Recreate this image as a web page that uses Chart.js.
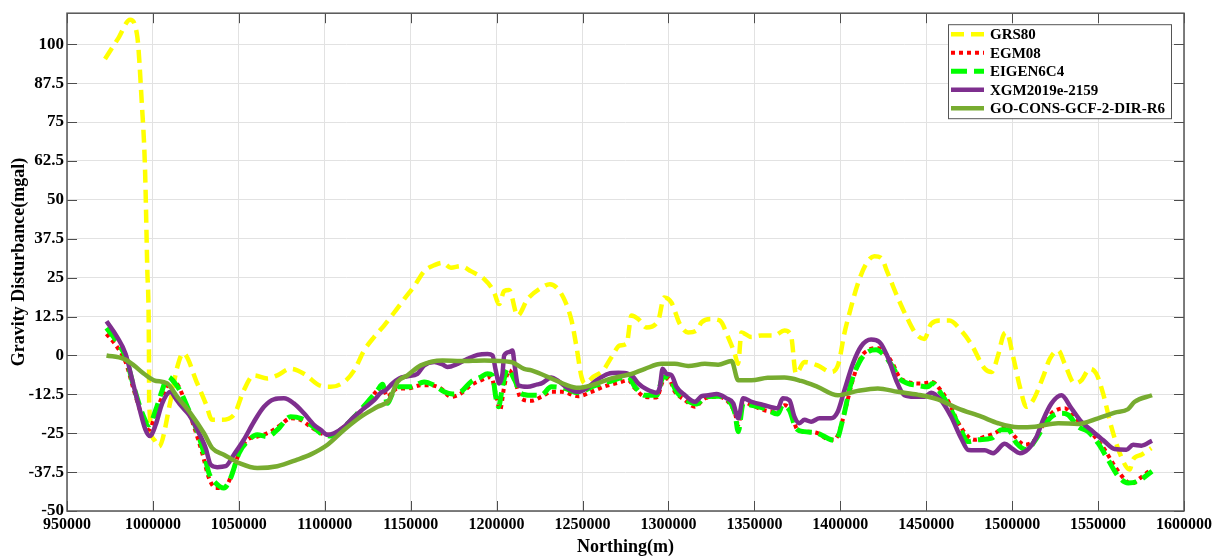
<!DOCTYPE html>
<html>
<head>
<meta charset="utf-8">
<script src="https://cdn.jsdelivr.net/npm/chart.js@4.4.0/dist/chart.umd.min.js"></script>
<style>
  html, body { margin: 0; padding: 0; background: #fff; }
  #wrap { width: 1220px; height: 558px; }
</style>
</head>
<body>
<div id="wrap"><canvas id="chart" width="1220" height="558"></canvas></div>
<script>
// axis ticks
const xTicks = [950000, 1000000, 1050000, 1100000, 1150000, 1200000, 1250000,
    1300000, 1350000, 1400000, 1450000, 1500000, 1550000, 1600000];
const yTicks = [-50, -37.5, -25, -12.5, 0, 12.5, 25, 37.5, 50, 62.5, 75, 87.5, 100];

const seriesNames = ['GRS80', 'EGM08', 'EIGEN6C4', 'XGM2019e-2159', 'GO-CONS-GCF-2-DIR-R6'];

// GRS80
const xGrs = [972100, 979900, 986700, 990900, 993500, 995400, 996700, 997700, 997800, 1000600,
    1003500, 1010300, 1014200, 1017600, 1025800, 1030700, 1034500, 1039400, 1047100, 1052900,
    1058700, 1066500, 1072400, 1080100, 1087900, 1097700, 1103500, 1111300, 1117100, 1122900,
    1128700, 1134500, 1140400, 1146200, 1152100, 1157900, 1163700, 1168500, 1173400, 1179200,
    1185000, 1192800, 1198200, 1201500, 1204400, 1207300, 1212200, 1218000, 1226100, 1231000,
    1234900, 1239700, 1243600, 1246500, 1249400, 1251400, 1256200, 1262000, 1266900, 1271700,
    1275600, 1278500, 1282400, 1287200, 1294000, 1297500, 1301700, 1306600, 1311400, 1316300,
    1319200, 1325000, 1329900, 1334700, 1338600, 1340500, 1342500, 1348300, 1353900, 1361600,
    1367500, 1371300, 1374200, 1379100, 1386800, 1394600, 1398900, 1402300, 1406200, 1410100,
    1414900, 1419800, 1423700, 1427500, 1433400, 1439200, 1444100, 1448900, 1452800, 1458600,
    1463500, 1470300, 1476100, 1484100, 1488000, 1491800, 1494800, 1496700, 1500600, 1504500,
    1508300, 1512200, 1518000, 1521900, 1526800, 1530600, 1536400, 1540300, 1545200, 1549000,
    1552900, 1557700, 1562600, 1568400, 1570300, 1575200, 1581000];
const yGrs = [95.3, 102.0, 107.9, 102.5, 81.3, 60, 28, 0, -15, -27,
    -29.3, -14.4, -3.7, 0.7, -9, -15.4, -20.7, -20.7, -19.1, -11.2,
    -6.4, -7.4, -6.4, -4.3, -5.9, -9.8, -10.1, -8.5, -4.8, 1.6,
    5.9, 9.6, 13.8, 18.1, 22.3, 27.1, 29.0, 29.8, 28.2, 28.7,
    27.1, 24.5, 20.7, 16.5, 20.7, 21.0, 12.8, 18.1, 21.8, 22.9,
    21.8, 17.6, 11.2, 2.7, -6.9, -9.0, -6.9, -4.8, -0.5, 3.2,
    3.7, 12.8, 11.7, 9.0, 11.2, 18.6, 17.0, 10.1, 7.4, 8.0,
    10.6, 11.7, 11.2, 5.9, 0.5, -2.7, 7.4, 5.9, 6.4, 6.4,
    8.0, 6.4, -5.9, -2.1, -3.2, -5.3, -2.7, 6.9, 15.4, 22.9,
    29.3, 31.9, 31.4, 26.6, 18.6, 11.7, 6.9, 5.3, 10.1, 11.2,
    11.2, 8.0, 3.7, -4.3, -5.3, 0, 6.4, 7.4, -0.5, -10.1,
    -16.5, -14.4, -6.9, -1.1, 1.6, -2.7, -9.0, -8.0, -4.3, -5.9,
    -12.2, -22.9, -31.4, -36.7, -33.5, -31.9, -29.8];

// EGM08
const xEgm = [973000, 979200, 984100, 988900, 993800, 997700, 1001600, 1005400, 1011300, 1015100,
    1019000, 1023900, 1028700, 1032600, 1036500, 1041300, 1046200, 1050100, 1054900, 1060700,
    1068500, 1074300, 1080100, 1085900, 1091800, 1097700, 1103500, 1111300, 1117100, 1124800,
    1129700, 1133600, 1136500, 1139400, 1142300, 1148100, 1155900, 1161700, 1167600, 1173400,
    1179200, 1185000, 1190900, 1196700, 1199500, 1202000, 1204400, 1207300, 1210600, 1214100,
    1219900, 1226100, 1231900, 1237800, 1247500, 1255200, 1263000, 1270800, 1276600, 1280500,
    1286300, 1293100, 1297000, 1299900, 1303800, 1309600, 1315400, 1321200, 1329000, 1334800,
    1338700, 1340600, 1343500, 1348400, 1355800, 1363600, 1367500, 1370400, 1375200, 1381000,
    1386800, 1392600, 1396500, 1399400, 1403300, 1407200, 1412100, 1415900, 1420800, 1425600,
    1430500, 1434300, 1439200, 1445000, 1450800, 1453700, 1457600, 1463500, 1468300, 1474400,
    1478300, 1484100, 1489900, 1496700, 1501600, 1507400, 1513200, 1518000, 1522900, 1526800,
    1530600, 1536400, 1542300, 1548100, 1553900, 1559700, 1565600, 1569400, 1573300, 1578200,
    1581000];
const yEgm = [6.9, 2.7, -2.1, -11.2, -19.7, -23.9, -18.6, -13.3, -8.0, -10.1,
    -15.4, -22.9, -31.4, -39.4, -42.6, -42.6, -37.8, -31.4, -27.1, -26.1,
    -24.5, -22.3, -20.2, -20.7, -22.9, -25.0, -25.5, -22.9, -20.2, -15.4,
    -11.7, -10.1, -13.3, -11.7, -10.6, -10.6, -9.6, -9.6, -10.6, -13.3,
    -12.2, -9.6, -8.0, -6.9, -12.2, -17.6, -10.1, -4.8, -8.0, -13.8,
    -14.6, -13.3, -11.7, -11.7, -13.1, -11.7, -9.9, -8.8, -8.0, -10.6,
    -13.3, -13.5, -8.0, -7.4, -11.7, -14.4, -16.5, -13.8, -13.3, -14.9,
    -18.6, -22.3, -14.9, -16.0, -17.6, -18.1, -16.0, -17.0, -23.9, -24.5,
    -25.0, -26.9, -27.1, -24.5, -16.5, -8.0, -0.5, 1.6, 2.4, 1.1,
    -2.7, -6.9, -8.5, -9.0, -8.8, -8.5, -10.6, -15.4, -21.3, -26.1,
    -27.1, -26.1, -25.0, -22.9, -26.1, -28.7, -27.1, -22.3, -18.6, -17.3,
    -17.0, -20.2, -22.3, -26.1, -30.3, -35.6, -39.9, -41.3, -39.9, -37.8,
    -36.5];

// EIGEN6C4
const xEig = [973000, 979200, 984100, 988900, 993800, 997700, 1001600, 1005400, 1008700, 1012200,
    1016100, 1020000, 1024800, 1029700, 1032600, 1036500, 1041300, 1045200, 1050100, 1054900,
    1060700, 1066500, 1072400, 1080100, 1085900, 1091800, 1097700, 1103500, 1111300, 1119100,
    1125800, 1130700, 1133600, 1136500, 1139400, 1142300, 1150100, 1157800, 1163700, 1169500,
    1174300, 1179200, 1185000, 1190900, 1194700, 1197600, 1199500, 1201100, 1203400, 1206300,
    1210600, 1214100, 1219900, 1225700, 1231900, 1239700, 1247500, 1255200, 1264900, 1276600,
    1280500, 1286300, 1293100, 1297000, 1299900, 1304700, 1310600, 1316400, 1321200, 1329000,
    1334800, 1338700, 1340600, 1343500, 1348400, 1355800, 1363600, 1366500, 1370400, 1374200,
    1379100, 1386800, 1394600, 1397500, 1401400, 1406200, 1411100, 1415900, 1420800, 1425600,
    1430500, 1434300, 1439200, 1445000, 1450800, 1453700, 1458600, 1464500, 1469300, 1474400,
    1480200, 1488000, 1493800, 1497700, 1502500, 1508300, 1514200, 1519000, 1522900, 1528700,
    1532600, 1538400, 1544200, 1550000, 1555800, 1561700, 1567500, 1573300, 1581400];
const yEig = [8.8, 4.3, -0.5, -10.1, -18.6, -22.3, -17.6, -11.2, -6.9, -8.5,
    -11.7, -16.5, -22.9, -31.4, -37.8, -41.0, -42.6, -39.4, -31.4, -27.7,
    -25.5, -26.1, -23.9, -19.7, -20.2, -22.3, -25.0, -25.9, -22.9, -18.6,
    -14.4, -11.2, -9.3, -15.4, -12.2, -10.1, -10.1, -8.5, -9.6, -11.7,
    -12.4, -11.7, -8.5, -6.9, -5.9, -6.4, -13.3, -16.5, -10.1, -4.3,
    -8.0, -12.2, -12.8, -12.8, -10.1, -10.6, -12.0, -10.1, -8.5, -6.9,
    -10.1, -12.8, -12.8, -6.9, -6.9, -11.7, -14.4, -15.6, -13.3, -13.1,
    -14.4, -18.6, -24.5, -15.4, -16.0, -17.0, -18.8, -16.0, -17.6, -23.4,
    -24.5, -25.0, -27.1, -27.3, -20.7, -9.0, -2.1, 1.1, 1.8, 0,
    -3.7, -7.4, -9.0, -9.6, -10.1, -9.0, -12.2, -17.6, -22.9, -27.7,
    -27.1, -26.6, -23.9, -23.9, -28.2, -30.3, -26.6, -22.3, -19.7, -18.6,
    -19.1, -22.9, -24.5, -28.2, -33.5, -38.8, -41.0, -40.4, -37.2];

// XGM2019e-2159
const xXgm = [973000, 979200, 984100, 988000, 991900, 995700, 998300, 1001600, 1005400, 1010300,
    1013200, 1016100, 1021000, 1025800, 1030700, 1033600, 1037400, 1042300, 1047100, 1052900,
    1058800, 1064600, 1070400, 1076200, 1082000, 1087900, 1093700, 1097600, 1101600, 1105400,
    1111300, 1117100, 1122900, 1128700, 1132600, 1135500, 1139400, 1143300, 1148100, 1153900,
    1157800, 1163700, 1168500, 1171400, 1177300, 1183100, 1188900, 1194700, 1197600, 1199500,
    1201500, 1203400, 1204400, 1207300, 1209200, 1210600, 1212500, 1217900, 1223800, 1226100,
    1231900, 1235800, 1241700, 1247500, 1252300, 1258100, 1264900, 1270800, 1276600, 1279500,
    1282400, 1287300, 1293100, 1295000, 1296600, 1298900, 1301800, 1304700, 1309600, 1315400,
    1319300, 1323200, 1328000, 1333800, 1337700, 1340600, 1343500, 1348400, 1355800, 1363600,
    1366500, 1370400, 1373300, 1376200, 1379100, 1383000, 1387900, 1394600, 1398500, 1402400,
    1407300, 1412100, 1417900, 1422800, 1427600, 1432500, 1437300, 1443100, 1449000, 1452800,
    1458600, 1464500, 1470300, 1474500, 1478300, 1484100, 1488900, 1495700, 1499600, 1504500,
    1509300, 1514200, 1518000, 1522900, 1528700, 1534500, 1540300, 1547100, 1553900, 1559700,
    1566500, 1570400, 1575200, 1581400];
const yXgm = [11.0, 5.9, 0.5, -8.0, -16.5, -23.9, -25.9, -22.3, -15.4, -11.7,
    -13.8, -16.0, -19.1, -23.9, -29.8, -35.1, -35.9, -35.6, -31.9, -27.1,
    -21.3, -16.5, -14.1, -13.8, -15.4, -18.6, -22.3, -23.9, -25.5, -25.0,
    -22.9, -19.7, -17.0, -14.4, -12.0, -11.2, -9.0, -7.4, -6.7, -5.9,
    -3.2, -2.1, -2.9, -3.7, -2.7, -1.1, 0.2, 0.5, 0, -4.8,
    -9.0, -5.9, 0, 1.1, 1.6, -3.7, -9.6, -10.1, -9.3, -9.0,
    -7.1, -8.2, -10.6, -11.7, -10.6, -8.0, -5.9, -5.6, -5.9, -6.9,
    -9.0, -10.9, -12.0, -10.1, -4.3, -5.9, -6.4, -10.1, -12.8, -14.9,
    -13.1, -12.8, -12.4, -13.8, -15.4, -20.2, -13.8, -14.9, -16.0, -17.0,
    -13.8, -14.4, -19.7, -21.8, -20.7, -21.3, -20.2, -20.2, -18.1, -11.2,
    -2.7, 2.9, 5.1, 4.3, -0.5, -8.0, -12.8, -13.3, -13.3, -12.0,
    -14.4, -19.7, -26.6, -30.4, -30.5, -30.5, -31.4, -28.4, -29.8, -31.4,
    -30.1, -26.1, -20.7, -15.4, -12.8, -17.0, -21.3, -24.5, -27.7, -30.1,
    -30.3, -28.7, -29.0, -27.4];

// GO-CONS-GCF-2-DIR-R6
const xGoc = [973000, 983100, 988900, 994800, 1000600, 1008300, 1014200, 1021900, 1029700, 1034500,
    1041300, 1051000, 1060700, 1072400, 1084000, 1091900, 1101600, 1111300, 1121000, 1130700,
    1137400, 1142300, 1148100, 1155900, 1168500, 1179200, 1192800, 1208300, 1216000, 1220300,
    1231900, 1239700, 1247500, 1255200, 1266900, 1278500, 1286300, 1296000, 1303700, 1311500,
    1321200, 1328900, 1336700, 1340600, 1348300, 1357800, 1367500, 1377200, 1386800, 1398600,
    1410100, 1421800, 1433400, 1445000, 1456700, 1468300, 1482100, 1491800, 1503500, 1513200,
    1526800, 1538400, 1550000, 1559700, 1567400, 1571300, 1581400];
const yGoc = [0.0, -1.1, -3.2, -5.9, -8.0, -9.0, -13.3, -18.6, -25.0, -29.8,
    -31.9, -34.8, -36.2, -35.6, -33.5, -31.8, -28.7, -23.9, -19.7, -16.5,
    -14.4, -8.5, -6.4, -3.2, -1.6, -1.8, -1.6, -2.1, -4.3, -4.8,
    -7.4, -9.3, -10.4, -9.6, -7.4, -5.9, -4.3, -2.7, -2.7, -3.4,
    -2.7, -3.0, -1.8, -8.0, -8.0, -7.2, -7.1, -8.2, -10.1, -12.8,
    -11.4, -10.6, -11.7, -12.6, -14.1, -17.0, -19.7, -21.8, -23.1, -22.9,
    -21.8, -22.0, -20.2, -18.4, -17.3, -14.9, -12.8];

const FONT = "'Liberation Serif', 'Times New Roman', serif";

function pts(xs, ys) {
    return xs.map((x, i) => ({ x: x, y: ys[i] }));
}

function lineSet(label, xs, ys, color, width, dash, order) {
    return {
        label: label,
        data: pts(xs, ys),
        borderColor: color,
        backgroundColor: color,
        borderWidth: width,
        borderDash: dash,
        borderCapStyle: 'butt',
        borderJoinStyle: 'round',
        pointRadius: 0,
        fill: false,
        cubicInterpolationMode: 'monotone',
        order: order,
    };
}

// box round the plot, inward ticks, legend in the top right corner
const framePlugin = {
    id: 'frame',
    afterDatasetsDraw(chart) {
        const { ctx, chartArea: a, scales } = chart;
        const tl = 10;
        ctx.save();
        ctx.strokeStyle = '#4d4d4d';
        ctx.lineWidth = 1;
        ctx.beginPath();
        scales.x.ticks.forEach(t => {
            const p = Math.round(scales.x.getPixelForValue(t.value)) + 0.5;
            ctx.moveTo(p, a.bottom); ctx.lineTo(p, a.bottom - tl);
            ctx.moveTo(p, a.top); ctx.lineTo(p, a.top + tl);
        });
        scales.y.ticks.forEach(t => {
            const p = Math.round(scales.y.getPixelForValue(t.value)) + 0.5;
            ctx.moveTo(a.left, p); ctx.lineTo(a.left + tl, p);
            ctx.moveTo(a.right, p); ctx.lineTo(a.right - tl, p);
        });
        ctx.stroke();
        ctx.lineWidth = 1.5;
        ctx.strokeStyle = '#555';
        ctx.strokeRect(a.left, a.top, a.right - a.left, a.bottom - a.top);

        // legend
        const bx = a.right - 236, by = a.top + 11, bw = 223, bh = 94;
        ctx.fillStyle = '#fff';
        ctx.fillRect(bx, by, bw, bh);
        ctx.strokeStyle = '#555';
        ctx.lineWidth = 1;
        ctx.strokeRect(bx + 0.5, by + 0.5, bw, bh);
        ctx.font = 'bold 15px ' + FONT;
        ctx.textBaseline = 'middle';
        ctx.fillStyle = '#000';
        chart.data.datasets.forEach((ds, i) => {
            const ry = by + 10 + i * 18.5;
            ctx.save();
            ctx.strokeStyle = ds.borderColor;
            ctx.lineWidth = ds.borderWidth;
            ctx.setLineDash(ds.borderDash || []);
            ctx.beginPath();
            ctx.moveTo(bx + 3, ry);
            ctx.lineTo(bx + 36, ry);
            ctx.stroke();
            ctx.restore();
            ctx.fillText(ds.label, bx + 42, ry + 1);
        });
        ctx.restore();
    }
};

const ctx = document.getElementById('chart').getContext('2d');
const chart = new Chart(ctx, {
    type: 'line',
    data: {
        datasets: [
            lineSet(seriesNames[0], xGrs, yGrs, '#ffff00', 4.5, [13, 7], 5),
            lineSet(seriesNames[1], xEgm, yEgm, '#ff0000', 4, [4, 4], 4),
            lineSet(seriesNames[2], xEig, yEig, '#00ff00', 5, [16, 7], 3),
            lineSet(seriesNames[3], xXgm, yXgm, '#7e2f8e', 4.5, [], 2),
            lineSet(seriesNames[4], xGoc, yGoc, '#77ac30', 4.5, [], 1),
        ],
    },
    options: {
        responsive: false,
        animation: false,
        devicePixelRatio: 1,
        layout: { padding: { top: 10, right: 36, left: 0, bottom: 0 } },
        plugins: {
            legend: { display: false },
            tooltip: { enabled: false },
        },
        scales: {
            x: {
                type: 'linear',
                min: 950000,
                max: 1600000,
                afterBuildTicks: (scale) => { scale.ticks = xTicks.map(v => ({ value: v })); },
                afterFit: (scale) => { scale.height = 47; },
                ticks: {
                    autoSkip: false,
                    maxRotation: 0,
                    padding: 4,
                    color: '#000',
                    font: { family: FONT, size: 16, weight: 'bold' },
                    callback: (v) => String(v),
                },
                grid: { color: '#e2e2e2', lineWidth: 1, drawTicks: false },
                border: { display: false },
                title: {
                    display: true,
                    text: 'Northing(m)',
                    color: '#000',
                    font: { family: FONT, size: 18, weight: 'bold' },
                    padding: { top: 0, bottom: 0 },
                },
            },
            y: {
                type: 'linear',
                min: -50,
                max: 110,
                afterBuildTicks: (scale) => { scale.ticks = yTicks.map(v => ({ value: v })); },
                afterFit: (scale) => { scale.width = 67; },
                ticks: {
                    autoSkip: false,
                    padding: 3,
                    color: '#000',
                    font: { family: FONT, size: 17, weight: 'bold' },
                    callback: (v) => String(v),
                },
                grid: { color: '#e2e2e2', lineWidth: 1, drawTicks: false },
                border: { display: false },
                title: {
                    display: true,
                    text: 'Gravity Disturbance(mgal)',
                    color: '#000',
                    font: { family: FONT, size: 18, weight: 'bold' },
                    padding: { top: 9, bottom: 0 },
                },
            },
        },
    },
    plugins: [framePlugin],
});
</script>
</body>
</html>
